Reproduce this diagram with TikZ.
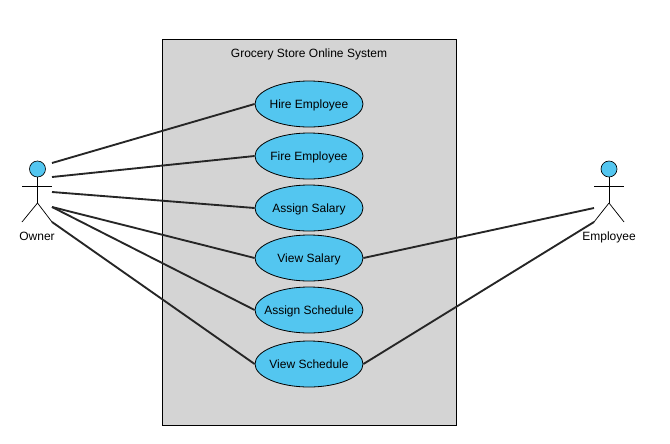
\documentclass[tikz,border=0pt]{standalone}
\usepackage{fontspec}
\setmainfont{Liberation Sans}
\usetikzlibrary{shapes.geometric,positioning}

\definecolor{usecaseblue}{RGB}{83,198,240}
\definecolor{systemgray}{RGB}{212,212,212}

\begin{document}
\begin{tikzpicture}[
    x=0.75pt, y=-0.75pt,
    sys/.style={draw, fill=systemgray, line width=0.6pt},
    uc/.style={draw, ellipse, fill=usecaseblue, minimum width=81pt, minimum height=34.5pt, inner xsep=-6pt, inner ysep=0pt, text height=6.8pt, text depth=0pt, font=\fontsize{9}{11}\selectfont, line width=0.6pt},
    head/.style={draw, circle, fill=usecaseblue, minimum size=12pt, inner sep=0pt, line width=0.5pt},
    lbl/.style={align=center, text height=6.8pt, text depth=0pt, font=\fontsize{9}{11}\selectfont},
    limb/.style={line width=0.55pt},
    assoc/.style={line width=1.4pt, draw=black!85}
]

\useasboundingbox (0,0) rectangle (670,443);

\node[sys, minimum width=220.5pt, minimum height=289.5pt, inner sep=0pt] (system) at (309,232.5) {};
\node[lbl] (title) at (309,53) {Grocery Store Online System};

\node[uc] (hire) at (309,104) {Hire Employee};
\node[uc] (fire) at (309,156) {Fire Employee};
\node[uc] (salary) at (309,208) {Assign Salary};
\node[uc] (viewsal) at (309,258) {View Salary};
\node[uc] (schedule) at (309,310) {Assign Schedule};
\node[uc] (viewsch) at (309,364) {View Schedule};

% owner
\node[head] (ownerhead) at (37.5,169) {};
\coordinate (ownerL) at (22,186);
\coordinate (ownerR) at (52,186);
\coordinate (ownerhip) at (37.5,203);
\coordinate (ownerfootL) at (22,222);
\coordinate (ownerfootR) at (52,222);
\node[lbl] (ownerlbl) at (37,236) {Owner};

\draw[limb] (ownerhead) -- (ownerhip);
\draw[limb] (ownerL) -- (ownerR);
\draw[limb] (ownerfootL) -- (ownerhip);
\draw[limb] (ownerhip) -- (ownerfootR);

% employee
\node[head] (emphead) at (609,169) {};
\coordinate (empL) at (594,186);
\coordinate (empR) at (624,186);
\coordinate (emphip) at (609,203);
\coordinate (empfootL) at (594,222);
\coordinate (empfootR) at (624,222);
\node[lbl] (emplbl) at (609,236) {Employee};

\draw[limb] (emphead) -- (emphip);
\draw[limb] (empL) -- (empR);
\draw[limb] (empfootL) -- (emphip);
\draw[limb] (emphip) -- (empfootR);

% free ends of the associations
\coordinate (o1) at (52,163);
\coordinate (o2) at (52,177);
\coordinate (o3) at (52,192);
\coordinate (o4) at (52,207);
\coordinate (e1) at (594,208);

\draw[assoc] (o1) -- (hire.west);
\draw[assoc] (o2) -- (fire.west);
\draw[assoc] (o3) -- (salary.west);
\draw[assoc] (o4) -- (viewsal.west);
\draw[assoc] (o4) -- (schedule.west);
\draw[assoc] (ownerfootR) -- (viewsch.west);

\draw[assoc] (viewsal.east) -- (e1);
\draw[assoc] (viewsch.east) -- (empfootL);

\end{tikzpicture}
\end{document}
